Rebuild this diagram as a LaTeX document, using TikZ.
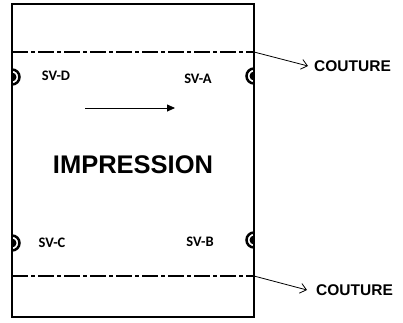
\documentclass[tikz,border=0pt]{standalone}
\usepackage{fontspec}
\setmainfont{Liberation Sans}
\newfontfamily\svfont{Carlito}
\usetikzlibrary{arrows.meta}
\begin{document}
\begin{tikzpicture}[x=1pt,y=-1pt,
  frame/.style={draw=black,line width=1.4pt},
  seam/.style={draw=black,line width=1.5pt,dash pattern=on 16pt off 3pt on 4pt off 3pt},
  svlabel/.style={font=\svfont\bfseries\fontsize{14.5}{16}\selectfont,inner sep=0pt},
  coutlabel/.style={font=\bfseries\fontsize{15.5}{17}\selectfont,inner sep=0pt,anchor=west},
  ptr/.style={draw=black,line width=0.8pt,-{Straight Barb[length=6pt,width=10pt]}}]
\useasboundingbox (0,0) rectangle (403,322);
\fill[white] (0,0) rectangle (403,322);
% markers left
\foreach \yy in {77,243}{
  \begin{scope}
    \clip (12,\yy-12) rectangle (24,\yy+12);
    \draw[line width=2.5pt] (12,\yy) circle[radius=7.5pt];
    \fill (12,\yy) circle[radius=4.5pt];
  \end{scope}
}
% markers right
\foreach \yy in {76,240}{
  \begin{scope}
    \clip (242,\yy-12) rectangle (254,\yy+12);
    \draw[line width=2.5pt] (254,\yy) circle[radius=7.5pt];
    \fill (254,\yy) circle[radius=4.5pt];
  \end{scope}
}
% sheet
\draw[frame] (12,4) rectangle (254,317);
% seams
\coordinate (s1l) at (12,52);
\coordinate (s1r) at (254,52);
\coordinate (s2l) at (12,276);
\coordinate (s2r) at (254,276);
\draw[seam] (s1l) -- (s1r);
\draw[seam] (s2l) -- (s2r);
% couture labels
\node[coutlabel] (c1) at (314,66) {COUTURE};
\node[coutlabel] (c2) at (316,290) {COUTURE};
\draw[ptr] (s1r) -- ([xshift=-6pt]c1.west);
\draw[ptr] (s2r) -- ([xshift=-9pt]c2.west);
% sv labels
\node[svlabel] (svd) at (56,76) {SV-D};
\node[svlabel] (sva) at (198,79) {SV-A};
\node[svlabel] (svc) at (52,243) {SV-C};
\node[svlabel] (svb) at (200,242) {SV-B};
% direction arrow
\coordinate (a1) at (85,108);
\coordinate (a2) at (175,108);
\draw[line width=0.8pt,-{Triangle[length=8pt,width=7pt]}] (a1) -- (a2);
% title
\node[font=\bfseries\fontsize{25.5}{28}\selectfont,inner sep=0pt] (imp) at (133,164.5) {IMPRESSION};
\end{tikzpicture}
\end{document}
